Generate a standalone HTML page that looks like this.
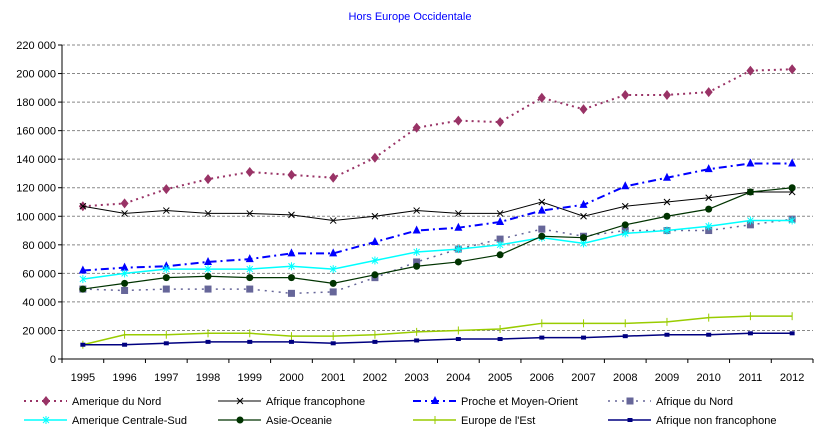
<!DOCTYPE html>
<html><head><meta charset="utf-8"><style>
body{margin:0;background:#fff;}
svg{display:block;font-family:"Liberation Sans",sans-serif;}
</style></head><body>
<svg id="c" width="818" height="434"></svg>
<script>
const years=[1995,1996,1997,1998,1999,2000,2001,2002,2003,2004,2005,2006,2007,2008,2009,2010,2011,2012];
const yTicks=[0,20000,40000,60000,80000,100000,120000,140000,160000,180000,200000,220000];
const amNord=[107,109,119,126,131,129,127,141,162,167,166,183,175,185,185,187,202,203];
const afFranco=[107,102,104,102,102,101,97,100,104,102,102,110,100,107,110,113,117,117];
const proche=[62,64,65,68,70,74,74,82,90,92,96,104,108,121,127,133,137,137];
const afNord=[49,48,49,49,49,46,47,57,68,77,84,91,86,90,90,90,94,98];
const amCentre=[56,60,63,63,63,65,63,69,75,77,80,85,81,88,90,93,97,97];
const asie=[49,53,57,58,57,57,53,59,65,68,73,86,85,94,100,105,117,120];
const europeEst=[10,17,17,18,18,16,16,17,19,20,21,25,25,25,26,29,30,30];
const afNonFranco=[10,10,11,12,12,12,11,12,13,14,14,15,15,16,17,17,18,18];
const seriesNames=["Amerique du Nord","Afrique francophone","Proche et Moyen-Orient","Afrique du Nord","Amerique Centrale-Sud","Asie-Oceanie","Europe de l'Est","Afrique non francophone"];

const NS="http://www.w3.org/2000/svg";
const svg=document.getElementById('c');
const L=62,R=813,T=45,B=359;
const bw=(R-L)/years.length;
const xs=i=>L+bw*(i+0.5);
const ys=v=>B-(v/220000)*(B-T);
function el(t,a,p){const e=document.createElementNS(NS,t);for(const k in a)e.setAttribute(k,a[k]);(p||svg).appendChild(e);return e;}

let t=el('text',{x:410,y:20,'text-anchor':'middle','font-size':11,fill:'#0000ff'});t.textContent="Hors Europe Occidentale";



yTicks.forEach(v=>{
  const y=ys(v);
  if(v>0){const g=el('line',{x1:L,x2:R,y1:y,y2:y,stroke:'#888','stroke-dasharray':'3,2','stroke-width':1});
  
  }
  el('line',{x1:L-4,x2:L,y1:y,y2:y,stroke:'#000'});
  const lb=el('text',{x:L-6,y:y+4,'text-anchor':'end','font-size':11,fill:'#000'});
  lb.textContent=v===0?"0":(v/1000)+" 000";
  
  
});
el('line',{x1:L,x2:L,y1:T,y2:B,stroke:'#000'});
el('line',{x1:L,x2:R,y1:B,y2:B,stroke:'#000'});
years.forEach((yr,i)=>{
  el('line',{x1:L+bw*i,x2:L+bw*i,y1:B,y2:B+4,stroke:'#000'});
  const lb=el('text',{x:xs(i),y:B+22,'text-anchor':'middle','font-size':11,fill:'#000'});
  lb.textContent=yr;
  
  
});
el('line',{x1:R,x2:R,y1:B,y2:B+4,stroke:'#000'});

const styles=[
 {d:amNord,c:'#993366',dash:'2,4',w:2,m:'diamond'},
 {d:afFranco,c:'#000000',dash:'',w:1,m:'x'},
 {d:proche,c:'#0000ff',dash:'8,4,2,4',w:2,m:'tri'},
 {d:afNord,c:'#666699',dash:'2,5',w:1.5,m:'square'},
 {d:amCentre,c:'#00ffff',dash:'',w:1.5,m:'star'},
 {d:asie,c:'#003300',dash:'',w:1.2,m:'circle'},
 {d:europeEst,c:'#99cc00',dash:'',w:1.5,m:'plus'},
 {d:afNonFranco,c:'#000080',dash:'',w:1.5,m:'smallsq'}
];
function marker(g,m,x,y,c){
  if(m==='diamond')el('polygon',{points:`${x},${y-5} ${x+4},${y} ${x},${y+5} ${x-4},${y}`,fill:c},g);
  else if(m==='x'){el('path',{d:`M${x-3},${y-3}L${x+3},${y+3}M${x-3},${y+3}L${x+3},${y-3}`,stroke:c,'stroke-width':1},g);}
  else if(m==='tri')el('polygon',{points:`${x},${y-5} ${x+4},${y+3} ${x-4},${y+3}`,fill:c},g);
  else if(m==='square')el('rect',{x:x-3.5,y:y-3.5,width:7,height:7,fill:c},g);
  else if(m==='star')el('path',{d:`M${x-3},${y-3}L${x+3},${y+3}M${x-3},${y+3}L${x+3},${y-3}M${x},${y-4}L${x},${y+4}`,stroke:c,'stroke-width':1},g);
  else if(m==='circle')el('circle',{cx:x,cy:y,r:3.5,fill:c},g);
  else if(m==='plus')el('path',{d:`M${x},${y-4}L${x},${y+4}`,stroke:c,'stroke-width':1},g);
  else if(m==='smallsq')el('rect',{x:x-2.5,y:y-2,width:5,height:4,fill:c},g);
}
styles.forEach((s,k)=>{
  const g=el('g',{});
  
  
  const pts=s.d.map((v,i)=>xs(i)+','+ys(v*1000)).join(' ');
  const a={points:pts,fill:'none',stroke:s.c,'stroke-width':s.w};
  if(s.dash)a['stroke-dasharray']=s.dash;
  el('polyline',a,g);
  s.d.forEach((v,i)=>marker(g,s.m,xs(i),ys(v*1000),s.c));
});
// legend
const lx=[24,218,413,608],ly=[401,420];
styles.forEach((s,k)=>{
  const g=el('g',{});
  
  
  const x=lx[k%4],y=ly[Math.floor(k/4)];
  const a={x1:x,x2:x+43,y1:y,y2:y,stroke:s.c,'stroke-width':s.w};
  if(s.dash)a['stroke-dasharray']=s.dash;
  el('line',a,g);
  marker(g,s.m,x+22,y,s.c);
  const tx=el('text',{x:x+48,y:y+4,'font-size':11,fill:'#000'},g);
  tx.textContent=seriesNames[k];
});
</script>
</body></html>
